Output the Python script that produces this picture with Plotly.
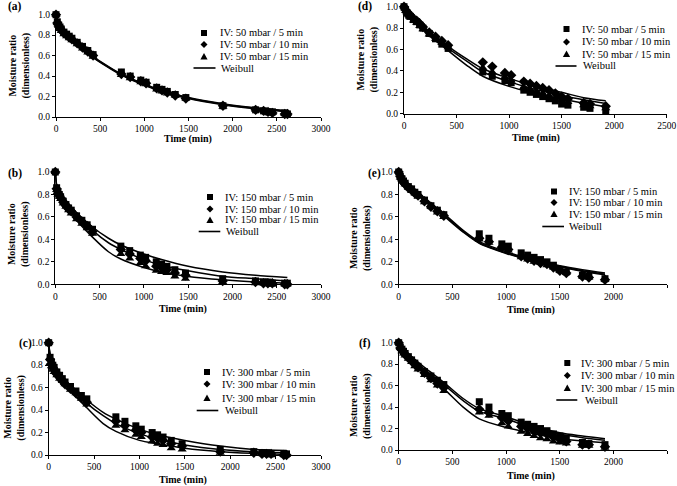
import plotly.graph_objects as go

W, H = 677, 486
FONT = "Liberation Serif"

# ---------------- data ----------------
T_LEFT = [0, 15, 30, 45, 60, 90, 120, 150, 180, 240, 300, 360, 420, 740, 840, 960, 1020,
          1140, 1200, 1260, 1350, 1470, 1890, 2260, 2350, 2400, 2450, 2590, 2620]
T_RIGHT = [0, 15, 30, 45, 60, 90, 120, 150, 180, 240, 300, 360, 420, 750, 840, 960, 1020,
           1140, 1200, 1260, 1320, 1380, 1440, 1500, 1560, 1710, 1770, 1920]
TW_LEFT = [0, 15, 30, 60, 120, 240, 420, 600, 740, 1000, 1200, 1500, 1890, 2260, 2620]
TW_RIGHT = [0, 15, 30, 60, 120, 240, 420, 600, 750, 1000, 1200, 1500, 1710, 1920]

# (a) 50 mbar, left
A_5 = [1.00, 0.93, 0.90, 0.88, 0.86, 0.83, 0.81, 0.79, 0.77, 0.73, 0.69, 0.65, 0.61, 0.44, 0.40, 0.36, 0.34,
       0.29, 0.27, 0.25, 0.22, 0.19, 0.11, 0.07, 0.06, 0.05, 0.05, 0.04, 0.03]
A_10 = [1.00, 0.92, 0.89, 0.87, 0.85, 0.82, 0.80, 0.78, 0.76, 0.72, 0.68, 0.64, 0.60, 0.42, 0.39, 0.35, 0.33,
        0.28, 0.26, 0.24, 0.21, 0.18, 0.11, 0.07, 0.06, 0.05, 0.04, 0.03, 0.03]
A_15 = [1.00, 0.92, 0.89, 0.86, 0.84, 0.81, 0.79, 0.77, 0.75, 0.71, 0.67, 0.63, 0.59, 0.41, 0.38, 0.34, 0.32,
        0.27, 0.25, 0.23, 0.21, 0.18, 0.10, 0.07, 0.06, 0.05, 0.04, 0.03, 0.03]
A_W1 = [1.00, 0.95, 0.92, 0.88, 0.82, 0.72, 0.59, 0.49, 0.42, 0.32, 0.26, 0.19, 0.13, 0.09, 0.06]
A_W2 = [1.00, 0.95, 0.92, 0.88, 0.82, 0.72, 0.585, 0.485, 0.415, 0.315, 0.255, 0.185, 0.125, 0.085, 0.055]
A_W3 = [1.00, 0.95, 0.92, 0.87, 0.81, 0.71, 0.58, 0.48, 0.41, 0.31, 0.25, 0.18, 0.12, 0.08, 0.05]

# (b) 150 mbar, left
B_5 = [1.00, 0.86, 0.82, 0.80, 0.78, 0.74, 0.71, 0.68, 0.66, 0.61, 0.57, 0.53, 0.49, 0.34, 0.30, 0.26, 0.24,
       0.20, 0.18, 0.16, 0.13, 0.10, 0.05, 0.03, 0.02, 0.02, 0.01, 0.01, 0.01]
B_10 = [1.00, 0.85, 0.81, 0.79, 0.77, 0.73, 0.70, 0.67, 0.65, 0.60, 0.56, 0.52, 0.47, 0.31, 0.27, 0.23, 0.21,
        0.16, 0.15, 0.13, 0.10, 0.08, 0.03, 0.02, 0.01, 0.01, 0.01, 0.00, 0.00]
B_15 = [1.00, 0.84, 0.80, 0.78, 0.76, 0.72, 0.69, 0.66, 0.63, 0.58, 0.54, 0.50, 0.45, 0.27, 0.23, 0.19, 0.16,
        0.12, 0.11, 0.10, 0.07, 0.05, 0.02, 0.01, 0.01, 0.00, 0.00, 0.00, 0.00]
B_W1 = [1.00, 0.89, 0.86, 0.82, 0.75, 0.64, 0.51, 0.41, 0.35, 0.27, 0.22, 0.16, 0.11, 0.08, 0.06]
B_W2 = [1.00, 0.88, 0.85, 0.80, 0.73, 0.62, 0.48, 0.37, 0.31, 0.22, 0.17, 0.12, 0.07, 0.05, 0.03]
B_W3 = [1.00, 0.87, 0.84, 0.79, 0.71, 0.57, 0.42, 0.29, 0.225, 0.15, 0.11, 0.07, 0.04, 0.02, 0.01]

# (c) 300 mbar, left
C_5 = [1.00, 0.87, 0.83, 0.80, 0.78, 0.74, 0.71, 0.68, 0.65, 0.61, 0.57, 0.53, 0.50, 0.34, 0.30, 0.26, 0.23,
       0.20, 0.18, 0.16, 0.13, 0.10, 0.05, 0.03, 0.02, 0.02, 0.01, 0.01, 0.01]
C_10 = [1.00, 0.85, 0.81, 0.78, 0.76, 0.72, 0.69, 0.66, 0.63, 0.59, 0.55, 0.51, 0.47, 0.30, 0.26, 0.22, 0.20,
        0.16, 0.15, 0.13, 0.10, 0.08, 0.03, 0.02, 0.01, 0.01, 0.01, 0.00, 0.00]
C_15 = [1.00, 0.82, 0.79, 0.76, 0.74, 0.71, 0.68, 0.66, 0.63, 0.58, 0.55, 0.50, 0.45, 0.26, 0.22, 0.18, 0.16,
        0.12, 0.10, 0.09, 0.06, 0.05, 0.02, 0.01, 0.01, 0.00, 0.00, 0.00, 0.00]
C_W1 = [1.00, 0.90, 0.86, 0.81, 0.74, 0.62, 0.49, 0.38, 0.32, 0.23, 0.18, 0.13, 0.08, 0.05, 0.04]
C_W2 = [1.00, 0.89, 0.85, 0.80, 0.72, 0.60, 0.46, 0.35, 0.28, 0.19, 0.14, 0.09, 0.05, 0.03, 0.02]
C_W3 = [1.00, 0.88, 0.84, 0.78, 0.70, 0.57, 0.42, 0.28, 0.21, 0.13, 0.10, 0.06, 0.03, 0.015, 0.005]

# (d) 50 mbar, right
D_5 = [1.00, 0.97, 0.94, 0.92, 0.91, 0.88, 0.86, 0.83, 0.80, 0.75, 0.70, 0.65, 0.61, 0.39, 0.35, 0.31, 0.29,
       0.22, 0.20, 0.18, 0.16, 0.14, 0.12, 0.09, 0.08, 0.06, 0.05, 0.03]
D_10 = [1.00, 0.97, 0.95, 0.93, 0.92, 0.89, 0.87, 0.84, 0.81, 0.76, 0.72, 0.68, 0.64, 0.48, 0.44, 0.38, 0.36,
        0.30, 0.28, 0.26, 0.24, 0.22, 0.19, 0.16, 0.14, 0.10, 0.09, 0.07]
D_15 = [1.00, 0.96, 0.94, 0.92, 0.90, 0.87, 0.85, 0.82, 0.79, 0.74, 0.70, 0.66, 0.62, 0.43, 0.39, 0.34, 0.31,
        0.25, 0.23, 0.21, 0.19, 0.17, 0.15, 0.13, 0.11, 0.08, 0.07, 0.05]
D_W1 = [1.00, 0.97, 0.95, 0.92, 0.87, 0.77, 0.63, 0.51, 0.42, 0.33, 0.27, 0.20, 0.15, 0.12]
D_W2 = [1.00, 0.97, 0.95, 0.91, 0.86, 0.75, 0.61, 0.49, 0.39, 0.30, 0.24, 0.17, 0.13, 0.095]
D_W3 = [1.00, 0.97, 0.94, 0.90, 0.85, 0.73, 0.59, 0.45, 0.35, 0.255, 0.20, 0.135, 0.10, 0.065]

# (e) 150 mbar, right
E_5 = [1.00, 0.96, 0.94, 0.92, 0.90, 0.87, 0.85, 0.82, 0.80, 0.75, 0.70, 0.66, 0.62, 0.45, 0.41, 0.36, 0.34,
       0.28, 0.26, 0.24, 0.22, 0.20, 0.17, 0.13, 0.11, 0.08, 0.07, 0.05]
E_10 = [1.00, 0.96, 0.93, 0.91, 0.89, 0.86, 0.84, 0.81, 0.79, 0.74, 0.69, 0.65, 0.61, 0.41, 0.38, 0.33, 0.31,
        0.25, 0.23, 0.21, 0.19, 0.18, 0.15, 0.12, 0.10, 0.07, 0.06, 0.04]
E_15 = [1.00, 0.95, 0.93, 0.91, 0.89, 0.86, 0.83, 0.81, 0.78, 0.73, 0.69, 0.64, 0.60, 0.40, 0.37, 0.32, 0.30,
        0.24, 0.22, 0.20, 0.19, 0.17, 0.15, 0.12, 0.10, 0.07, 0.06, 0.04]
E_W1 = [1.00, 0.97, 0.95, 0.92, 0.87, 0.77, 0.63, 0.48, 0.38, 0.29, 0.23, 0.165, 0.13, 0.10]
E_W2 = [1.00, 0.97, 0.95, 0.92, 0.86, 0.76, 0.62, 0.47, 0.37, 0.28, 0.225, 0.16, 0.12, 0.09]
E_W3 = [1.00, 0.96, 0.94, 0.91, 0.86, 0.76, 0.61, 0.465, 0.365, 0.275, 0.22, 0.155, 0.115, 0.085]

# (f) 300 mbar, right
F_5 = [1.00, 0.96, 0.94, 0.92, 0.90, 0.87, 0.84, 0.81, 0.78, 0.73, 0.69, 0.65, 0.61, 0.45, 0.40, 0.34, 0.32,
       0.26, 0.24, 0.22, 0.20, 0.18, 0.15, 0.13, 0.11, 0.07, 0.06, 0.05]
F_10 = [1.00, 0.95, 0.93, 0.91, 0.89, 0.86, 0.83, 0.80, 0.77, 0.72, 0.67, 0.62, 0.58, 0.38, 0.35, 0.30, 0.27,
        0.22, 0.20, 0.18, 0.16, 0.15, 0.12, 0.10, 0.08, 0.05, 0.05, 0.03]
F_15 = [1.00, 0.95, 0.92, 0.90, 0.88, 0.85, 0.82, 0.78, 0.75, 0.70, 0.65, 0.60, 0.55, 0.35, 0.32, 0.25, 0.22,
        0.17, 0.15, 0.13, 0.11, 0.10, 0.08, 0.07, 0.06, 0.04, 0.04, 0.02]
F_W1 = [1.00, 0.97, 0.95, 0.92, 0.87, 0.77, 0.63, 0.48, 0.385, 0.31, 0.24, 0.16, 0.13, 0.105]
F_W2 = [1.00, 0.97, 0.95, 0.91, 0.86, 0.75, 0.61, 0.46, 0.36, 0.29, 0.22, 0.146, 0.115, 0.09]
F_W3 = [1.00, 0.96, 0.94, 0.89, 0.83, 0.71, 0.57, 0.40, 0.29, 0.21, 0.165, 0.105, 0.085, 0.068]

TIMES = ["5", "10", "15"]
X_TITLE = "Time (min)"
Y_TITLE = "Moisture ratio<br>(dimensionless)"

# ---------------- layout (pixel positions) ----------------
panels = [
    dict(lab="(a)", p="50", t=T_LEFT, tw=TW_LEFT, s=[A_5, A_10, A_15], w=[A_W1, A_W2, A_W3], xmax=3000,
         box=(56, 321, 14.7, 117), labxy=(15, 7), yt=(19.5, 66), xt=(188, 138.5),
         mk=204, tx=217.5, rows=[33, 44.5, 56.5, 68], wl=(193.5, 215.5), wt=218.5),
    dict(lab="(b)", p="150", t=T_LEFT, tw=TW_LEFT, s=[B_5, B_10, B_15], w=[B_W1, B_W2, B_W3], xmax=3000,
         box=(55.3, 321, 172, 284.3), labxy=(15, 173.3), yt=(19, 234), xt=(183.3, 308.8),
         mk=210, tx=223, rows=[197, 209, 220, 231.5], wl=(198.7, 220.3), wt=223.7),
    dict(lab="(c)", p="300", t=T_LEFT, tw=TW_LEFT, s=[C_5, C_10, C_15], w=[C_W1, C_W2, C_W3], xmax=3000,
         box=(48.7, 321, 342.7, 455), labxy=(25.5, 343.3), yt=(13.7, 408), xt=(183.3, 479.5),
         mk=207, tx=220, rows=[372, 384, 398, 410.5], wl=(196.7, 218.3), wt=223),
    dict(lab="(d)", p="50", t=T_RIGHT, tw=TW_RIGHT, s=[D_5, D_10, D_15], w=[D_W1, D_W2, D_W3], xmax=2500,
         box=(404, 666.7, 6.7, 113.7), labxy=(365, 6.7), yt=(366.5, 60), xt=(536, 138),
         mk=566.5, tx=579.5, rows=[29, 42, 54, 66], wl=(555.5, 576.5), wt=580.7),
    dict(lab="(e)", p="150", t=T_RIGHT, tw=TW_RIGHT, s=[E_5, E_10, E_15], w=[E_W1, E_W2, E_W3], xmax=2500,
         box=(398.7, 667.3, 172, 284.3), labxy=(374.5, 173.3), yt=(360, 238), xt=(531, 309.5),
         mk=554, tx=566.7, rows=[191.5, 202.5, 214, 226.5], wl=(542.3, 564), wt=567.3),
    dict(lab="(f)", p="300", t=T_RIGHT, tw=TW_RIGHT, s=[F_5, F_10, F_15], w=[F_W1, F_W2, F_W3], xmax=2500,
         box=(398.7, 667.3, 342.7, 450), labxy=(365, 343.3), yt=(360, 406), xt=(531, 476),
         mk=567.3, tx=579, rows=[363, 375.5, 388, 400], wl=(556.3, 577.3), wt=583),
]


def PX(x):
    return x / W


def PY(y):
    return 1 - y / H


symbols = ["square", "diamond", "triangle-up"]
sizes = [7, 8, 8]

fig = go.Figure()
layout = dict(template="none", width=W, height=H, autosize=False, margin=dict(l=0, r=0, t=0, b=0, pad=0),
              paper_bgcolor="white", plot_bgcolor="white", showlegend=False,
              font=dict(family=FONT, color="black"))
annotations = []
shapes = []

for i, pn in enumerate(panels, start=1):
    xa = "x" if i == 1 else f"x{i}"
    ya = "y" if i == 1 else f"y{i}"
    x0, x1, ytop, ybot = pn["box"]
    for k in range(3):
        fig.add_trace(go.Scatter(x=pn["t"], y=pn["s"][k], mode="markers", xaxis=xa, yaxis=ya,
                                 cliponaxis=False,
                                 marker=dict(symbol=symbols[k], size=sizes[k], color="black",
                                             line=dict(width=0))))
    for k in range(3):
        fig.add_trace(go.Scatter(x=pn["tw"], y=pn["w"][k], mode="lines", xaxis=xa, yaxis=ya,
                                 cliponaxis=False, line=dict(color="black", width=1.5,
                                                             shape="spline", smoothing=0.8)))
    axcommon = dict(ticks="outside", ticklen=3, tickwidth=1, tickcolor="black", showline=True,
                    linecolor="black", linewidth=1, showgrid=False, zeroline=False, automargin=False,
                    tickfont=dict(family=FONT, size=9.5, color="black"))
    layout["xaxis" if i == 1 else f"xaxis{i}"] = dict(
        domain=[PX(x0), PX(x1)], range=[0, pn["xmax"]], tick0=0, dtick=500, tickformat="d",
        anchor=ya, **axcommon)
    layout["yaxis" if i == 1 else f"yaxis{i}"] = dict(
        domain=[PY(ybot), PY(ytop)], range=[0, 1.0], tick0=0, dtick=0.2, tickformat=".1f",
        anchor=xa, **axcommon)

    # panel label
    lx, ly = pn["labxy"]
    annotations.append(dict(text=f"<b>{pn['lab']}</b>", x=PX(lx), y=PY(ly), xref="paper", yref="paper",
                            xanchor="center", yanchor="middle", showarrow=False,
                            font=dict(family=FONT, size=11.5, color="black")))
    # axis titles
    annotations.append(dict(text=f"<b>{X_TITLE}</b>", x=PX(pn["xt"][0]), y=PY(pn["xt"][1]),
                            xref="paper", yref="paper", xanchor="center", yanchor="middle",
                            showarrow=False, font=dict(family=FONT, size=10, color="black")))
    annotations.append(dict(text=f"<b>{Y_TITLE}</b>", x=PX(pn["yt"][0]), y=PY(pn["yt"][1]),
                            xref="paper", yref="paper", xanchor="center", yanchor="middle",
                            textangle=-90, showarrow=False,
                            font=dict(family=FONT, size=10, color="black")))
    # legend
    mx = pn["mk"]
    for k in range(3):
        ry = pn["rows"][k]
        annotations.append(dict(text=f"IV: {pn['p']} mbar / {TIMES[k]} min", x=PX(pn["tx"]), y=PY(ry),
                                xref="paper", yref="paper", xanchor="left", yanchor="middle",
                                showarrow=False, font=dict(family=FONT, size=10.5, color="black")))
        if k == 0:
            shapes.append(dict(type="rect", xref="paper", yref="paper", x0=PX(mx - 3), x1=PX(mx + 3),
                               y0=PY(ry + 3), y1=PY(ry - 3), fillcolor="black", line=dict(width=0)))
        elif k == 1:
            path = (f"M {PX(mx - 3.5)},{PY(ry)} L {PX(mx)},{PY(ry - 3.5)} L {PX(mx + 3.5)},{PY(ry)} "
                    f"L {PX(mx)},{PY(ry + 3.5)} Z")
            shapes.append(dict(type="path", xref="paper", yref="paper", path=path,
                               fillcolor="black", line=dict(width=0)))
        else:
            path = (f"M {PX(mx - 3.6)},{PY(ry + 3)} L {PX(mx + 3.6)},{PY(ry + 3)} "
                    f"L {PX(mx)},{PY(ry - 3.5)} Z")
            shapes.append(dict(type="path", xref="paper", yref="paper", path=path,
                               fillcolor="black", line=dict(width=0)))
    ry = pn["rows"][3]
    shapes.append(dict(type="line", xref="paper", yref="paper", x0=PX(pn["wl"][0]), x1=PX(pn["wl"][1]),
                       y0=PY(ry), y1=PY(ry), line=dict(color="black", width=1.6)))
    annotations.append(dict(text="Weibull", x=PX(pn["wt"]), y=PY(ry), xref="paper", yref="paper",
                            xanchor="left", yanchor="middle", showarrow=False,
                            font=dict(family=FONT, size=10.5, color="black")))

layout["annotations"] = annotations
layout["shapes"] = shapes
fig.update_layout(**layout)
fig.write_html("out.html", config={"displayModeBar": False},
               post_script="document.body.style.margin='0';document.body.style.overflow='hidden';")
